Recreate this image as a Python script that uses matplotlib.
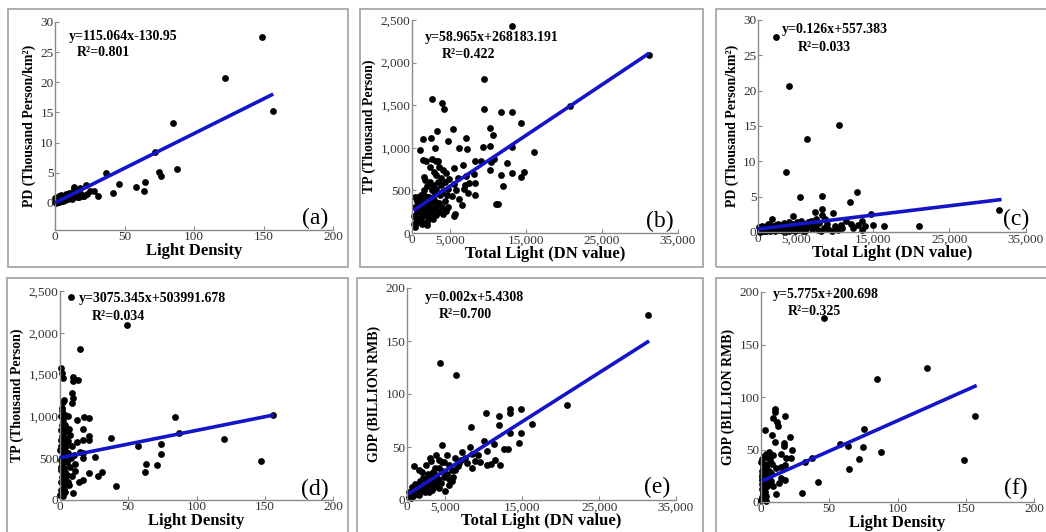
import matplotlib
matplotlib.use('Agg')
import matplotlib.pyplot as plt
from matplotlib.patches import Rectangle
from matplotlib.ticker import FuncFormatter

plt.rcParams['font.family'] = ['Liberation Serif', 'DejaVu Serif']

# (a) Light Density vs PD
a_pts = [(149, 27.5), (122, 20.7), (157, 15.2), (85, 13.3), (72, 8.5), (88, 5.6), (75, 5.1), (76, 4.5),
         (37, 5.0), (46, 3.2), (58, 2.7), (65, 3.4), (64, 2.0), (42, 1.6), (31, 1.1), (28, 1.9), (25, 1.9),
         (22, 2.9), (21, 1.2), (18, 2.4), (17, 1.0), (14, 2.7), (14, 2.3), (13, 1.5), (12, 1.7), (11, 1.3),
         (10, 1.6), (10, 0.9), (9, 1.2), (9, 0.7), (8, 1.4), (8, 0.8), (7, 1.0), (7, 0.5), (6, 1.0), (6, 0.6),
         (5, 1.2), (5, 0.4), (5, 0.8), (4, 1.3), (4, 0.7), (4, 0.3), (3, 0.9), (3, 0.5), (3, 0.2), (2, 1.0),
         (2, 0.6), (2, 0.3), (2, 0.1), (1, 0.7), (1, 0.4), (1, 0.2), (1, 0.0), (0.5, 0.5), (0.5, 0.2),
         (0.3, 0.8), (15, 1.1), (16, 0.9), (19, 1.5), (20, 1.1), (23, 1.4), (12, 0.6), (6, 0.3), (3, 1.1)]
a_fit_x = [0, 157]
a_fit_y = [0.0, 18.05]

# (b) Total Light vs TP
b_pts = [(13200, 2430), (31200, 2090), (20800, 1490), (9500, 1805), (2600, 1570), (3900, 1520), (4200, 1460),
         (3300, 1200), (5400, 1215), (9500, 1450), (11700, 1425), (13200, 1420), (14400, 1295), (10300, 1235),
         (10600, 1150), (1000, 975), (1500, 1100), (2500, 1110), (3050, 1000), (4800, 1075), (6200, 1000),
         (7100, 1110), (7300, 985), (9400, 1015), (10300, 1025), (13200, 1010), (16000, 945), (1600, 660),
         (1400, 860), (1900, 840), (2600, 865), (3150, 850), (3450, 840), (2350, 780), (3200, 680), (4100, 740),
         (4900, 635), (5500, 760), (6700, 795), (7100, 665), (7500, 585), (8300, 840), (8150, 695), (8300, 585),
         (8300, 450), (7400, 470), (9100, 840), (10300, 740), (10400, 830), (10800, 865), (11700, 685),
         (12500, 820), (13200, 710), (14300, 655), (14800, 715), (12000, 555), (11300, 345), (11000, 340),
         (6600, 330), (5700, 220), (5500, 200), (4800, 300),
         (300, 100), (500, 180), (700, 250), (900, 150), (1100, 300), (1300, 200), (1500, 350), (1700, 120),
         (1900, 260), (2100, 180), (2300, 320), (2500, 230), (2700, 400), (2900, 280), (3100, 210), (3300, 350),
         (3500, 250), (3700, 450), (3900, 300), (4100, 220), (4300, 380), (4500, 260), (400, 300), (600, 380),
         (800, 420), (1000, 250), (1200, 450), (1400, 280), (1600, 500), (1800, 380), (2000, 550), (2200, 420),
         (2400, 600), (2600, 500), (2800, 560), (3000, 460), (3200, 520), (3400, 600), (3600, 350), (3800, 560),
         (4000, 480), (4400, 600), (4600, 450), (4800, 520), (200, 200), (350, 420), (550, 120), (750, 320),
         (950, 400), (1150, 180), (1350, 380), (1550, 220), (1750, 440), (1950, 130), (2150, 300), (2350, 240),
         (2550, 350), (2750, 170), (2950, 390), (3150, 300), (1250, 100), (2000, 90), (450, 70), (1700, 620),
         (5200, 430), (5800, 500), (6200, 400), (6800, 520), (7000, 560), (5500, 580), (6000, 640), (4500, 700),
         (3800, 650), (3500, 780), (2900, 720)]
b_fit_x = [200, 31200]
b_fit_y = [265, 2110]

# (c) Total Light vs PD
c_pts = [(2300, 27.6), (4000, 20.7), (10600, 15.2), (6400, 13.2), (3600, 8.5), (5500, 5.0), (8400, 5.1),
         (12900, 5.6), (12000, 4.3), (8400, 3.3), (7500, 2.9), (9800, 2.7), (4600, 2.3), (1800, 1.8), (8400, 2.4),
         (31500, 3.1), (21000, 0.8), (16500, 0.8), (15000, 1.0), (14800, 2.6), (13600, 1.5), (13600, 0.3),
         (12100, 1.1), (10800, 1.0), (7600, 1.9), (6500, 1.4),
         (200, 0.2), (400, 0.5), (600, 0.1), (800, 0.4), (1000, 0.7), (1200, 0.3), (1400, 0.6), (1600, 0.2),
         (1800, 0.9), (2000, 0.4), (2200, 0.1), (2400, 0.7), (2600, 1.2), (2800, 0.3), (3000, 0.8), (3200, 0.5),
         (3400, 1.3), (3600, 0.2), (3800, 0.9), (4000, 1.4), (4200, 0.4), (4400, 0.7), (4600, 1.1), (4800, 0.2),
         (5000, 0.6), (5200, 1.0), (5400, 0.3), (5600, 1.6), (5800, 0.5), (6000, 1.2), (6200, 0.2), (6600, 0.8),
         (7000, 0.4), (7200, 1.0), (7800, 0.3), (8000, 1.3), (8600, 0.5), (8800, 1.8), (9200, 0.4), (9600, 0.2),
         (10000, 0.9), (10400, 0.3), (11000, 0.5), (11500, 1.6), (12400, 0.6), (13000, 1.0), (14000, 0.9),
         (500, 0.8), (900, 0.2), (1500, 1.0), (2100, 0.6), (2700, 0.9), (3300, 0.1), (3900, 0.5), (4500, 0.3),
         (5100, 1.4), (5700, 0.9), (6300, 0.6), (6900, 1.5), (7500, 0.7), (8200, 0.2), (9000, 1.1), (300, 0.4),
         (700, 0.6), (1100, 0.1), (1300, 1.1), (1700, 0.4), (2300, 1.0), (2900, 0.6), (3500, 0.9), (4100, 0.2),
         (4700, 0.8), (5300, 0.5), (5900, 0.1), (100, 0.7), (300, 0.0)]
c_fit_x = [0, 31800]
c_fit_y = [0.42, 4.6]

# (d) Light Density vs TP
d_pts = [(8, 2430), (49, 2095), (14.5, 1805), (84, 990), (156, 1020), (87, 805), (120, 725), (147, 465),
         (37, 745), (57, 640), (74, 675), (74, 555), (63, 425), (71, 420), (62.5, 330), (41, 165), (31, 330),
         (28, 290), (25.5, 510), (21.5, 320), (21.5, 975), (17.5, 995), (17, 845), (21.5, 760), (21.5, 715),
         (16.5, 715), (17, 560), (14.5, 580), (17, 505), (17, 240), (13.7, 215), (12.7, 955), (9, 1155),
         (9.3, 1225), (8.5, 1275), (9.3, 1475), (9.3, 1425), (13.4, 1435), (4.9, 460), (11, 430), (9.8, 80),
         (6, 215), (7, 775), (4.9, 855), (2.4, 1175), (1.2, 1095), (0.5, 1575), (1.2, 1515), (2.4, 1460),
         (3, 1200),
         (0.3, 60), (0.8, 120), (1.5, 90), (2.2, 180), (3, 130), (0.5, 220), (1.2, 270), (2, 320), (3.5, 250),
         (0.4, 360), (1, 400), (1.8, 440), (2.6, 380), (4, 340), (0.6, 480), (1.4, 520), (2.2, 560), (3.2, 500),
         (0.3, 600), (1, 640), (1.9, 680), (2.8, 620), (4.2, 580), (0.5, 720), (1.3, 760), (2.1, 800),
         (3.3, 740), (0.8, 840), (1.6, 900), (2.5, 960), (0.4, 1000), (1.1, 1060), (3.5, 1020), (4.5, 820),
         (5.5, 700), (6, 560), (7, 400), (5, 300), (6.5, 180), (4, 100), (2.5, 50), (5.5, 1000), (4.4, 650),
         (3.8, 900), (6.5, 850), (8, 500), (10.5, 540), (11, 350), (8.5, 290), (9, 640), (12.5, 690)]
d_fit_x = [0, 156.5]
d_fit_y = [506, 1017]

# (e) Total Light vs GDP
e_pts = [(31400, 175), (20800, 90), (16300, 72), (14800, 86), (13400, 86), (13400, 82), (14800, 63),
         (14600, 54), (13400, 63), (12600, 48), (13200, 48), (12000, 79), (12000, 71), (10300, 82), (10000, 56),
         (11300, 53), (12100, 33), (10400, 46), (10400, 33), (10900, 34), (11500, 38), (8300, 69), (4300, 129),
         (6400, 118), (900, 32), (4500, 52), (5000, 8.5), (3800, 42), (3100, 37), (4100, 38), (4600, 36),
         (5200, 42), (7200, 45), (7500, 40), (8200, 50), (7800, 35), (8800, 37), (9500, 36), (8500, 30),
         (6300, 40), (6800, 35), (5800, 28), (6000, 22), (5500, 20), (9200, 42), (7000, 38), (8500, 43),
         (200, 3), (400, 5), (600, 8), (800, 4), (1000, 10), (1200, 6), (1400, 12), (1600, 8), (1800, 14),
         (2000, 10), (2200, 17), (2400, 12), (2600, 20), (2800, 15), (3000, 22), (3200, 18), (3400, 26),
         (3600, 14), (3800, 24), (4000, 20), (4200, 30), (4400, 16), (4600, 27), (4800, 22), (300, 8), (500, 2),
         (700, 12), (900, 6), (1100, 15), (1300, 9), (1500, 5), (1700, 18), (1900, 11), (2100, 21), (2300, 8),
         (2500, 16), (2700, 25), (2900, 11), (3100, 14), (3300, 9), (3500, 21), (3700, 30), (3900, 17),
         (4100, 11), (1500, 28), (2000, 26), (2500, 33), (3000, 40), (2800, 8), (3500, 12), (5200, 25),
         (5500, 33), (5800, 18), (6200, 28), (6600, 32), (4800, 36), (5400, 14)]
e_fit_x = [200, 31500]
e_fit_y = [5.8, 150]

# (f) Light Density vs GDP
f_pts = [(46, 175), (121.5, 128), (85, 117), (157, 82), (149, 40), (75.5, 70), (88, 48), (75, 52), (72, 41),
         (58, 55), (64, 53), (64.5, 31), (42, 18.7), (30, 9), (11, 8), (4, 1), (3, 69), (10, 89), (10, 86),
         (8.5, 80), (8, 64), (11.7, 76), (12.2, 72), (17.8, 82), (21.5, 62), (23, 50), (21.7, 42), (17, 56),
         (18.3, 42), (16.6, 53), (10, 57), (14.6, 46), (3.7, 46), (4.9, 42), (6, 48), (11, 32), (14.6, 33),
         (17.8, 35), (13.4, 18), (8.5, 15), (14.6, 23), (17.3, 21), (32, 38), (37, 42),
         (0.3, 2), (0.8, 5), (1.5, 8), (2.2, 4), (3, 10), (0.5, 12), (1.2, 15), (2, 18), (3.5, 14), (0.4, 21),
         (1, 24), (1.8, 27), (2.6, 22), (4, 19), (0.6, 30), (1.4, 33), (2.2, 36), (3.2, 31), (0.3, 38), (1, 41),
         (1.9, 44), (2.8, 28), (4.2, 35), (0.5, 26), (1.3, 9), (2.1, 12), (3.3, 6), (0.8, 17), (1.6, 20),
         (2.5, 25), (4.5, 25), (5.5, 30), (6, 22), (7, 28), (8, 36), (6.5, 40), (9, 45), (5, 16), (7, 20)]
f_fit_x = [0.7, 158]
f_fit_y = [20, 111]

eq_texts = ['y=115.064x-130.95', 'y=58.965x+268183.191', 'y=0.126x+557.383',
            'y=3075.345x+503991.678', 'y=0.002x+5.4308', 'y=5.775x+200.698']
r2_texts = ['R\u00b2=0.801', 'R\u00b2=0.422', 'R\u00b2=0.033', 'R\u00b2=0.034', 'R\u00b2=0.700', 'R\u00b2=0.325']
panel_tags = ['(a)', '(b)', '(c)', '(d)', '(e)', '(f)']
x_labels = ['Light Density', 'Total Light (DN value)', 'Total Light (DN value)',
            'Light Density', 'Total Light (DN value)', 'Light Density']
y_labels = ['PD (Thousand Person/km\u00b2)', 'TP (Thousand Person)', 'PD (Thousand Person/km\u00b2)',
            'TP (Thousand Person)', 'GDP (BILLION RMB)', 'GDP (BILLION RMB)']

ld_ticks = [0, 50, 100, 150, 200]
tl_ticks = [0, 5000, 15000, 25000, 35000]
pd_ticks = [0, 5, 10, 15, 20, 25, 30]
tp_ticks = [0, 500, 1000, 1500, 2000, 2500]
gdp_ticks = [0, 50, 100, 150, 200]

fig = plt.figure(figsize=(10.46, 5.32), dpi=100)
W, H = 1046.0, 532.0


def px_axes(left, right, top, bottom):
    return fig.add_axes([left / W, 1 - bottom / H, (right - left) / W, (bottom - top) / H])


# panel frames (pixel boxes)
frames = [(8, 9, 348, 267), (360, 9, 703, 267), (716, 9, 1052, 267),
          (7, 278, 348, 538), (357, 278, 703, 538), (716, 278, 1052, 538)]
for x0, y0, x1, y1 in frames:
    fig.add_artist(Rectangle((x0 / W, 1 - y1 / H), (x1 - x0) / W, (y1 - y0) / H,
                             transform=fig.transFigure, fill=False, ec='#a8a8a8', lw=1.3))

axes = [px_axes(55, 333, 22, 230), px_axes(412, 678, 20, 233), px_axes(758, 1026, 20, 232),
        px_axes(60, 333, 291, 500), px_axes(407, 676, 288, 500), px_axes(761, 1034, 292, 502)]

panels = [(a_pts, a_fit_x, a_fit_y, ld_ticks, pd_ticks, (0, 200), (-4.5, 30)),
          (b_pts, b_fit_x, b_fit_y, tl_ticks, tp_ticks, (0, 35000), (0, 2500)),
          (c_pts, c_fit_x, c_fit_y, tl_ticks, pd_ticks, (0, 35000), (0, 30)),
          (d_pts, d_fit_x, d_fit_y, ld_ticks, tp_ticks, (0, 200), (0, 2500)),
          (e_pts, e_fit_x, e_fit_y, tl_ticks, gdp_ticks, (0, 35000), (0, 200)),
          (f_pts, f_fit_x, f_fit_y, ld_ticks, gdp_ticks, (0, 200), (0, 200))]

# text anchors in data units (eq, r2, tag)
eq_pos = [(10, 27.6), (1700, 2300), (3050, 28.6), (13.9, 2410), (2260, 191), (9, 197.5)]
r2_pos = [(16, 25.0), (3900, 2090), (5200, 26.1), (23, 2190), (4130, 175), (19.5, 181)]
tag_pos = [(187, -2.6), (32600, 140), (33700, 1.8), (186.5, 125), (32600, 12), (186.5, 13)]

fmt = FuncFormatter(lambda v, p: '{:,.0f}'.format(v))

for i, ax in enumerate(axes):
    pts, fx, fy, xt, yt, xl, yl = panels[i]
    xs = [p[0] for p in pts]
    ys = [p[1] for p in pts]
    ax.scatter(xs, ys, s=24, c='black', linewidths=0, zorder=2, clip_on=False)
    ax.plot(fx, fy, color='#1414c8', lw=2.6, zorder=3, solid_capstyle='butt')
    ax.set_xlim(*xl)
    ax.set_ylim(*yl)
    ax.set_xticks(xt)
    ax.set_yticks(yt)
    ax.xaxis.set_major_formatter(fmt)
    ax.yaxis.set_major_formatter(fmt)
    for side in ['top', 'right']:
        ax.spines[side].set_visible(False)
    for side in ['left', 'bottom']:
        ax.spines[side].set_color('#8a8a8a')
        ax.spines[side].set_linewidth(1.0)
    ax.tick_params(direction='in', length=3, width=0.8, color='#8a8a8a',
                   labelsize=9.5, labelcolor='#333333', pad=1)
    ax.set_xlabel(x_labels[i], fontsize=12, fontweight='bold', labelpad=0)
    ax.set_ylabel(y_labels[i], fontsize=10, fontweight='bold', labelpad=3)
    ax.patch.set_alpha(0)
    ax.text(eq_pos[i][0], eq_pos[i][1], eq_texts[i], fontsize=10, fontweight='bold',
            ha='left', va='center')
    ax.text(r2_pos[i][0], r2_pos[i][1], r2_texts[i], fontsize=10, fontweight='bold',
            ha='left', va='center')
    ax.text(tag_pos[i][0], tag_pos[i][1], panel_tags[i], fontsize=17, ha='center', va='center')

fig.savefig('out.png', dpi=100)
